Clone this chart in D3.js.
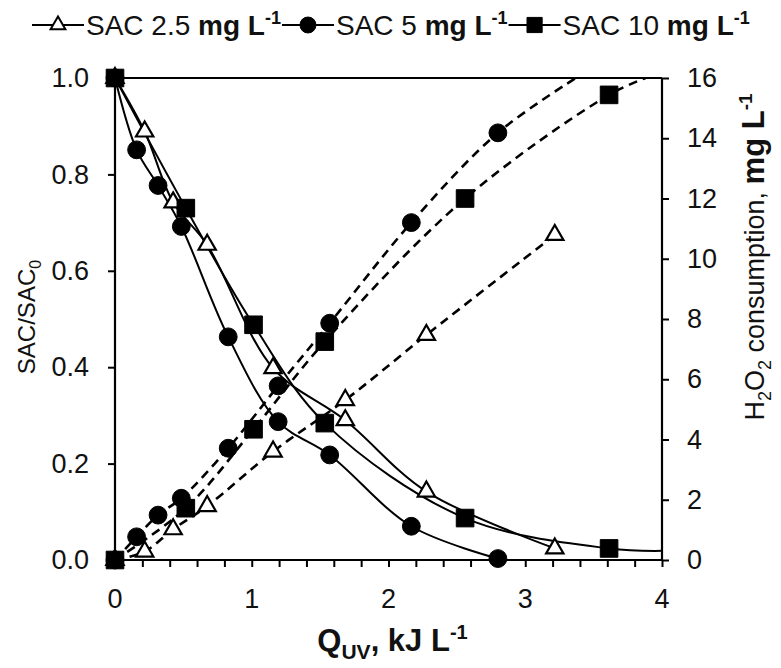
<!DOCTYPE html>
<html>
<head>
<meta charset="utf-8">
<script src="https://cdn.jsdelivr.net/npm/d3@7"></script>
<style>
  body { margin: 0; background: #fff; }
  svg { font-family: "Liberation Sans", Arial, sans-serif; }
</style>
</head>
<body>
<svg id="chart" width="781" height="668"></svg>
<script>
// UV dose (kJ/L) at each sample, per initial SAC concentration
const qTri = [0, 0.217, 0.425, 0.674, 1.156, 1.684, 2.277, 3.216];
const qCirc = [0, 0.158, 0.315, 0.485, 0.828, 1.193, 1.57, 2.167, 2.8];
const qSq = [0, 0.518, 1.013, 1.534, 2.56, 3.613];

// SAC/SAC0 (left axis)
const sacTri = [1, 0.889, 0.742, 0.654, 0.398, 0.29, 0.142, 0.024];
const sacCirc = [1, 0.851, 0.777, 0.692, 0.463, 0.287, 0.218, 0.07, 0.003];
const sacSq = [1, 0.73, 0.488, 0.284, 0.087, 0.024];

// H2O2 consumption, mg/L (right axis)
const h2Tri = [0, 0.28, 1.02, 1.79, 3.6, 5.31, 7.47, 10.79];
const h2Circ = [0, 0.77, 1.49, 2.05, 3.71, 5.78, 7.86, 11.2, 14.18];
const h2Sq = [0, 1.72, 4.34, 7.25, 12.0, 15.44];

// where the fitted lines run on past the last sample
const sqSacEnd = [4, 0.019];
const circH2End = [3.37, 16];
const sqH2End = [3.88, 16];

const xTicks = [0, 1, 2, 3, 4];
const yLeftTicks = [0, 0.2, 0.4, 0.6, 0.8, 1.0];
const yRightTicks = [0, 2, 4, 6, 8, 10, 12, 14, 16];

const margin = {top: 78, right: 119, bottom: 108, left: 115};
const W = 781, H = 668;
const svg = d3.select("#chart");

const x = d3.scaleLinear().domain([0, 4]).range([margin.left, W - margin.right]);
const yL = d3.scaleLinear().domain([0, 1]).range([H - margin.bottom, margin.top]);
const yR = d3.scaleLinear().domain([0, 16]).range([H - margin.bottom, margin.top]);

const fontSize = 27;

// clip for lines running past the frame
svg.append("clipPath").attr("id", "plot")
  .append("rect")
  .attr("x", x(0)).attr("y", yL(1))
  .attr("width", x(4) - x(0)).attr("height", yL(0) - yL(1));

// axes
const gx = svg.append("g")
  .attr("transform", `translate(0,${yL(0)})`)
  .call(d3.axisBottom(x).tickValues(d3.range(0, 4.01, 0.2)).tickSize(7).tickFormat(""));
const gyl = svg.append("g")
  .attr("transform", `translate(${x(0)},0)`)
  .call(d3.axisLeft(yL).tickValues(yLeftTicks).tickSize(7).tickFormat(d3.format(".1f")));
const gyr = svg.append("g")
  .attr("transform", `translate(${x(4)},0)`)
  .call(d3.axisRight(yR).tickValues(yRightTicks).tickSize(7));

[gx, gyl, gyr].forEach(g => {
  g.select(".domain").attr("stroke", "#000").attr("stroke-width", 2.2);
  g.selectAll(".tick line").attr("stroke", "#000").attr("stroke-width", 2);
  g.selectAll(".tick text").attr("font-size", fontSize).attr("fill", "#111")
    .attr("font-family", "Liberation Sans, Arial, sans-serif");
});
gyl.select(".domain").attr("d", `M0,${yL(1)}V${yL(0)}`);
gyr.select(".domain").attr("d", `M0,${yR(16)}V${yR(0)}`);
gx.select(".domain").attr("d", `M${x(0)},0H${x(4)}`);
gyl.selectAll(".tick text").attr("x", -26);
gyr.selectAll(".tick text").attr("x", 25);

// integer labels under the minor ticks
svg.append("g").selectAll("text").data(xTicks).join("text")
  .attr("x", d => x(d)).attr("y", yL(0) + 48)
  .attr("text-anchor", "middle").attr("font-size", fontSize).attr("fill", "#111")
  .text(d => d);

// top frame line
svg.append("line")
  .attr("x1", x(0)).attr("x2", x(4)).attr("y1", yL(1)).attr("y2", yL(1))
  .attr("stroke", "#000").attr("stroke-width", 2.2);

// lines
const curve = d3.curveCatmullRom.alpha(0.5);
const lineL = d3.line().x(d => x(d[0])).y(d => yL(d[1])).curve(curve);
const lineR = d3.line().x(d => x(d[0])).y(d => yR(d[1])).curve(curve);

const zip = (a, b) => a.map((v, i) => [v, b[i]]);

const solid = [zip(qTri, sacTri), zip(qCirc, sacCirc), zip(qSq, sacSq).concat([sqSacEnd])];
const dashed = [zip(qTri, h2Tri), zip(qCirc, h2Circ).concat([circH2End]), zip(qSq, h2Sq).concat([sqH2End])];

const lines = svg.append("g").attr("clip-path", "url(#plot)");
lines.selectAll("path.solid").data(solid).join("path")
  .attr("class", "solid").attr("d", lineL)
  .attr("fill", "none").attr("stroke", "#000").attr("stroke-width", 2);
lines.selectAll("path.dash").data(dashed).join("path")
  .attr("class", "dash").attr("d", lineR)
  .attr("fill", "none").attr("stroke", "#000").attr("stroke-width", 2.6)
  .attr("stroke-dasharray", "9,6");

// markers
const triSym = d3.symbol().type(d3.symbolTriangle).size(130);
const circSym = d3.symbol().type(d3.symbolCircle).size(250);
const sqSym = d3.symbol().type(d3.symbolSquare).size(310);

function drawMarks(pts, scale, kind) {
  const g = svg.append("g");
  g.selectAll("path").data(pts).join("path")
    .attr("transform", d => `translate(${x(d[0])},${scale(d[1])})`)
    .attr("d", kind === "tri" ? triSym : kind === "circ" ? circSym : sqSym)
    .attr("fill", kind === "tri" ? "#fff" : "#000")
    .attr("stroke", "#000").attr("stroke-width", kind === "tri" ? 2.2 : 1);
}
drawMarks(zip(qTri, h2Tri), yR, "tri");
drawMarks(zip(qTri, sacTri), yL, "tri");
drawMarks(zip(qCirc, h2Circ), yR, "circ");
drawMarks(zip(qCirc, sacCirc), yL, "circ");
drawMarks(zip(qSq, h2Sq), yR, "sq");
drawMarks(zip(qSq, sacSq), yL, "sq");

// axis titles
const xt = svg.append("text")
  .attr("x", (x(0) + x(4)) / 2 + 4).attr("y", 651)
  .attr("text-anchor", "middle").attr("font-size", 31).attr("font-weight", "bold").attr("fill", "#111");
xt.append("tspan").text("Q");
xt.append("tspan").attr("font-size", 21).attr("dy", 8).text("UV");
xt.append("tspan").attr("dy", -8).text(", kJ L");
xt.append("tspan").attr("font-size", 20).attr("dy", -12).text("-1");

const yt = svg.append("text")
  .attr("transform", `translate(35,317) rotate(-90)`)
  .attr("text-anchor", "middle").attr("font-size", 24).attr("fill", "#111");
yt.append("tspan").text("SAC/SAC");
yt.append("tspan").attr("font-size", 16).attr("dy", 6).text("0");

const rt = svg.append("text")
  .attr("transform", `translate(764,257) rotate(-90)`)
  .attr("text-anchor", "middle").attr("font-size", 27).attr("fill", "#111");
rt.append("tspan").text("H");
rt.append("tspan").attr("font-size", 18).attr("dy", 7).text("2");
rt.append("tspan").attr("dy", -7).text("O");
rt.append("tspan").attr("font-size", 18).attr("dy", 7).text("2");
rt.append("tspan").attr("dy", -7).text(" consumption,  ");
rt.append("tspan").attr("font-weight", "bold").attr("font-size", 31).text("mg L");
rt.append("tspan").attr("font-weight", "bold").attr("font-size", 19).attr("dy", -12).text("-1");

// legend
const legendItems = [
  {kind: "tri", name: "SAC 2.5 "},
  {kind: "circ", name: "SAC 5 "},
  {kind: "sq", name: "SAC 10 "}
];
const legend = svg.append("g");
let lx = 32;
const ly = 25;
legendItems.forEach(item => {
  legend.append("line").attr("x1", lx).attr("x2", lx + 52).attr("y1", ly).attr("y2", ly)
    .attr("stroke", "#000").attr("stroke-width", 2);
  legend.append("path")
    .attr("transform", `translate(${lx + 26},${ly})`)
    .attr("d", item.kind === "tri" ? d3.symbol().type(d3.symbolTriangle).size(95)
      : item.kind === "circ" ? d3.symbol().type(d3.symbolCircle).size(200)
      : d3.symbol().type(d3.symbolSquare).size(230))
    .attr("fill", item.kind === "tri" ? "#fff" : "#000")
    .attr("stroke", "#000").attr("stroke-width", item.kind === "tri" ? 2 : 1);
  const t = legend.append("text").attr("x", lx + 54).attr("y", ly + 10)
    .attr("font-size", 28).attr("fill", "#111");
  t.append("tspan").text(item.name);
  t.append("tspan").attr("font-weight", "bold").text("mg L");
  t.append("tspan").attr("font-weight", "bold").attr("font-size", 18).attr("dy", -11).text("-1");
  lx += 54 + t.node().getComputedTextLength() + 1;
});
</script>
</body>
</html>
